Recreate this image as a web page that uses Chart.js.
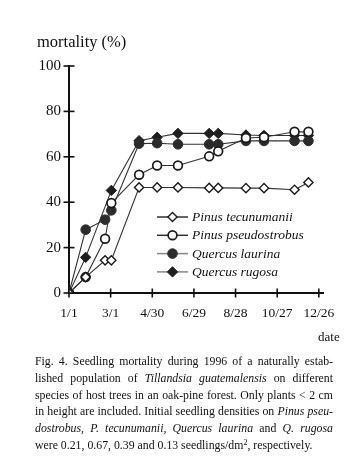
<!DOCTYPE html>
<html>
<head>
<meta charset="utf-8">
<script src="https://cdn.jsdelivr.net/npm/chart.js@4.4.1/dist/chart.umd.min.js"></script>
<style>
  html, body { margin:0; padding:0; background:#fff; }
  body { width:353px; height:464px; position:relative; overflow:hidden; font-family:"Liberation Serif", "Times New Roman", serif; color:#111; }
  #wrap { position:absolute; left:0; top:0; width:353px; height:464px; }
  #ylabel { position:absolute; left:37px; top:32px; font-size:16.5px; white-space:nowrap; }
  #xlabel { position:absolute; left:318px; top:329px; font-size:13px; white-space:nowrap; }
  #caption { position:absolute; left:35px; top:353px; width:298px; font-size:11.8px; line-height:16.8px; }
  #caption .l { text-align:justify; text-align-last:justify; white-space:nowrap; }
  #caption .last { text-align:left; text-align-last:left; white-space:nowrap; }
  sup { font-size:8px; line-height:0; vertical-align:4px; }
</style>
</head>
<body>
<div id="wrap"><canvas id="c" width="353" height="464"></canvas></div>
<div id="ylabel">mortality (%)</div>
<div id="xlabel">date</div>
<div id="caption">
  <div class="l">Fig. 4. Seedling mortality during 1996 of a naturally estab-</div>
  <div class="l">lished population of <i>Tillandsia guatemalensis</i> on different</div>
  <div class="l">species of host trees in an oak-pine forest. Only plants &lt; 2 cm</div>
  <div class="l">in height are included. Initial seedling densities on <i>Pinus pseu-</i></div>
  <div class="l"><i>dostrobus, P. tecunumanii, Quercus laurina</i> and <i>Q. rugosa</i></div>
  <div class="last">were 0.21, 0.67, 0.39 and 0.13 seedlings/dm<sup>2</sup>, respectively.</div>
</div>
<script>
// ---- data (day of year 1996, mortality %) ----
const dates = [0, 24, 52, 61, 101, 127, 157, 202, 215, 255, 281, 325, 345];
const pinusTecunumanii  = [0, 7, 14.4, 14.4, 46.5, 46.5, 46.5, 46.3, 46.3, 46.2, 46.2, 45.5, 48.7];
const pinusPseudostrobus = [0, 7, 23.9, 39.6, 52.1, 56.2, 56.2, 60.2, 62.4, 68.3, 68.6, 71, 71];
const quercusLaurina    = [0, 27.9, 32.3, 36.4, 65.8, 66, 65.5, 65.5, 65.5, 67, 67, 67, 67];
const quercusRugosa     = [0, 15.7, null, 45.2, 67.1, 68.6, 70.3, 70.3, 70.3, 69.6, 69.4, 69.4, 69.4];
const seriesNames = ['Pinus tecunumanii', 'Pinus pseudostrobus', 'Quercus laurina', 'Quercus rugosa'];
const xTickDays   = [0, 60, 120, 180, 240, 300, 360];
const xTickLabels = ['1/1', '3/1', '4/30', '6/29', '8/28', '10/27', '12/26'];
const yTickValues = [0, 20, 40, 60, 80, 100];

function pts(vals) { return dates.map((d, i) => ({ x: d, y: vals[i] })); }

const lineCol = '#333';
const datasets = [
  { label: seriesNames[0], data: pts(pinusTecunumanii), pointStyle: 'rectRot', pointRadius: 4.6,
    pointBackgroundColor: '#fff', pointBorderColor: '#1a1a1a', pointBorderWidth: 1.4 },
  { label: seriesNames[1], data: pts(pinusPseudostrobus), pointStyle: 'circle', pointRadius: 4.4,
    pointBackgroundColor: '#fff', pointBorderColor: '#1a1a1a', pointBorderWidth: 1.7 },
  { label: seriesNames[2], data: pts(quercusLaurina), pointStyle: 'circle', pointRadius: 4.8,
    pointBackgroundColor: '#2b2b2b', pointBorderColor: '#2b2b2b', pointBorderWidth: 1 },
  { label: seriesNames[3], data: pts(quercusRugosa), pointStyle: 'rectRot', pointRadius: 5.2,
    pointBackgroundColor: '#1e1e1e', pointBorderColor: '#1e1e1e', pointBorderWidth: 1 }
].map(d => Object.assign(d, { borderColor: lineCol, borderWidth: 1.1, tension: 0, spanGaps: true, fill: false }));

const legendStyles = [
  { line: '#333' }, { line: '#333' }, { line: '#888' }, { line: '#888' }
];

function drawMarker(ctx, ds, x, y) {
  ctx.save();
  ctx.fillStyle = ds.pointBackgroundColor;
  ctx.strokeStyle = ds.pointBorderColor;
  ctx.lineWidth = ds.pointBorderWidth;
  const r = ds.pointRadius;
  ctx.beginPath();
  if (ds.pointStyle === 'circle') {
    ctx.arc(x, y, r, 0, Math.PI * 2);
  } else {
    ctx.moveTo(x, y - r); ctx.lineTo(x + r, y); ctx.lineTo(x, y + r); ctx.lineTo(x - r, y); ctx.closePath();
  }
  ctx.fill(); ctx.stroke();
  ctx.restore();
}

const crossTicks = {
  id: 'crossTicks',
  afterDraw(chart) {
    const ctx = chart.ctx;
    const xs = chart.scales.x, ys = chart.scales.y;
    ctx.save();
    ctx.strokeStyle = '#111';
    ctx.lineWidth = 1.6;
    ys.ticks.forEach(t => {
      const p = ys.getPixelForValue(t.value);
      ctx.beginPath(); ctx.moveTo(xs.left - 5.5, p); ctx.lineTo(xs.left + 5.5, p); ctx.stroke();
    });
    xs.ticks.forEach(t => {
      const p = xs.getPixelForValue(t.value);
      ctx.beginPath(); ctx.moveTo(p, ys.bottom - 4.5); ctx.lineTo(p, ys.bottom + 4.5); ctx.stroke();
    });
    ctx.restore();
  }
};

const innerLegend = {
  id: 'innerLegend',
  afterDraw(chart) {
    const ctx = chart.ctx;
    const a = chart.chartArea;
    const x0 = a.left + 88, x1 = a.left + 119, xm = (x0 + x1) / 2, xt = a.left + 123;
    const y0 = a.top + 151, dy = 18.3;
    ctx.save();
    ctx.font = 'italic 13.5px "Liberation Serif", serif';
    ctx.textBaseline = 'middle';
    ctx.fillStyle = '#111';
    chart.data.datasets.forEach((ds, i) => {
      const y = y0 + i * dy;
      ctx.strokeStyle = legendStyles[i].line;
      ctx.lineWidth = 1.5;
      ctx.beginPath(); ctx.moveTo(x0, y); ctx.lineTo(x1, y); ctx.stroke();
      drawMarker(ctx, ds, xm, y);
      ctx.fillText(ds.label, xt, y + 0.5);
    });
    ctx.restore();
  }
};

new Chart(document.getElementById('c'), {
  type: 'line',
  data: { datasets },
  options: {
    responsive: false,
    animation: false,
    devicePixelRatio: 1,
    layout: { padding: { left: 0, top: 66, right: 30, bottom: 131 } },
    plugins: { legend: { display: false }, tooltip: { enabled: false } },
    scales: {
      x: {
        type: 'linear', min: 0, max: 366,
        afterFit(s) { s.height = 40; },
        afterBuildTicks(s) { s.ticks = xTickDays.map(v => ({ value: v })); },
        grid: { display: false, drawTicks: false },
        border: { display: true, color: '#111', width: 2 },
        ticks: {
          padding: 12, color: '#111', maxRotation: 0, autoSkip: false,
          font: { family: '"Liberation Serif", serif', size: 13.5 },
          callback: (v) => { const i = xTickDays.indexOf(v); return i >= 0 ? xTickLabels[i] : ''; }
        }
      },
      y: {
        min: 0, max: 100,
        afterFit(s) { s.width = 69; },
        afterBuildTicks(s) { s.ticks = yTickValues.map(v => ({ value: v })); },
        grid: { display: false, drawTicks: false },
        border: { display: true, color: '#111', width: 2 },
        ticks: {
          padding: 8, color: '#111',
          font: { family: '"Liberation Serif", serif', size: 15 }
        }
      }
    }
  },
  plugins: [crossTicks, innerLegend]
});
</script>
</body>
</html>
